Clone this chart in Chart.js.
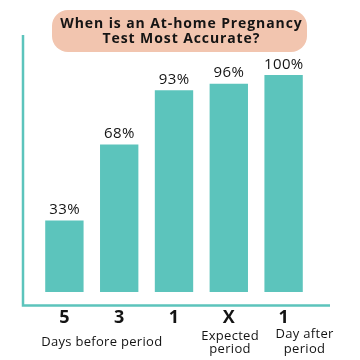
<!DOCTYPE html>
<html>
<head>
<meta charset="utf-8">
<script src="https://cdn.jsdelivr.net/npm/chart.js@4"></script>
<style>
html,body{margin:0;padding:0;background:#fff;}
#wrap{width:360px;height:360px;position:relative;}
</style>
</head>
<body>
<div id="wrap"><canvas id="c" width="360" height="360"></canvas></div>
<script>
const categories = ["5", "3", "1", "X", "1"];
const accuracy = [33, 68, 93, 96, 100];
const valueLabels = ["33%", "68%", "93%", "96%", "100%"];
const titleLines = ["When is an At-home Pregnancy", "Test Most Accurate?"];
const groupLabels = [
  { lines: ["Days before period"], at: 0.68 },
  { lines: ["Expected", "period"], at: 3.02 },
  { lines: ["Day after", "period"], at: 4.38 }
];

const TEAL = "#5cc4bc";
const PEACH = "#f2c5af";
const FONT = "'Open Sans', 'Liberation Sans', sans-serif";

function spaced(ctx, text, x, y, spacing) {
  ctx.letterSpacing = spacing + "px";
  const w = ctx.measureText(text).width - spacing;
  const align = ctx.textAlign;
  ctx.textAlign = "left";
  ctx.fillText(text, x - w / 2, y);
  ctx.textAlign = align;
  ctx.letterSpacing = "0px";
}

const decor = {
  id: "decor",
  beforeDraw(chart) {
    const ctx = chart.ctx;
    ctx.save();
    const x0 = 52, y0 = 10, w = 255, h = 42, r = 16;
    ctx.fillStyle = PEACH;
    ctx.beginPath();
    ctx.roundRect(x0, y0, w, h, r);
    ctx.fill();
    ctx.fillStyle = "#141414";
    ctx.font = "bold 14px " + FONT;
    ctx.textAlign = "center";
    ctx.textBaseline = "middle";
    spaced(ctx, titleLines[0], 181, 24, 0.9);
    spaced(ctx, titleLines[1], 181, 39, 0.9);
    ctx.restore();
  },
  afterDatasetsDraw(chart) {
    const ctx = chart.ctx;
    const a = chart.chartArea;
    const xs = chart.scales.x;
    const meta = chart.getDatasetMeta(0);
    ctx.save();
    ctx.strokeStyle = TEAL;
    ctx.lineWidth = 2.5;
    ctx.beginPath();
    ctx.moveTo(a.left - 14, 35);
    ctx.lineTo(a.left - 14, a.bottom + 13.5);
    ctx.lineTo(a.right + 19, a.bottom + 13.5);
    ctx.stroke();
    ctx.fillStyle = "#141414";
    ctx.font = "500 15px " + FONT;
    ctx.textAlign = "center";
    ctx.textBaseline = "bottom";
    meta.data.forEach((bar, i) => {
      spaced(ctx, valueLabels[i], bar.x, bar.y - 3, 0.4);
    });
    ctx.font = "bold 18px " + FONT;
    ctx.textBaseline = "middle";
    categories.forEach((c, i) => {
      ctx.fillText(c, xs.getPixelForValue(i), 318);
    });
    ctx.font = "500 13px " + FONT;
    groupLabels.forEach(g => {
      const cx = xs.getPixelForValue(g.at);
      if (g.lines.length === 1) {
        spaced(ctx, g.lines[0], cx, 342, 0.3);
      } else {
        spaced(ctx, g.lines[0], cx, g.at > 4 ? 334 : 336, 0.3);
        spaced(ctx, g.lines[1], cx, 349, 0.3);
      }
    });
    ctx.restore();
  }
};

new Chart(document.getElementById("c"), {
  type: "bar",
  data: {
    labels: categories,
    datasets: [{
      data: accuracy,
      backgroundColor: TEAL,
      borderWidth: 0,
      barPercentage: 0.7,
      categoryPercentage: 1.0
    }]
  },
  options: {
    responsive: false,
    animation: false,
    events: [],
    layout: { padding: { left: 37, right: 49, top: 75, bottom: 68 } },
    plugins: { legend: { display: false }, tooltip: { enabled: false }, title: { display: false } },
    scales: {
      x: { display: false, offset: true },
      y: { display: false, min: 0, max: 100 }
    }
  },
  plugins: [decor]
});
</script>
</body>
</html>
